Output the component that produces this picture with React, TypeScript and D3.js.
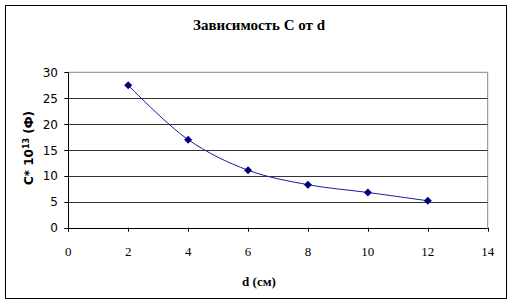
import React from "react";
import * as d3 from "d3";

const dValues = [2, 4, 6, 8, 10, 12];
const cValues = [27.5, 17.0, 11.1, 8.3, 6.8, 5.2];
const xTicks = [0, 2, 4, 6, 8, 10, 12, 14];
const yTicks = [0, 5, 10, 15, 20, 25, 30];
const title = "Зависимость С от d";
const xTitle = "d (см)";

export default function App() {
  const W = 513, H = 306;
  const x = d3.scaleLinear().domain([0, 14]).range([68.3, 487.7]);
  const y = d3.scaleLinear().domain([0, 30]).range([227.7, 72.3]);
  const pts: [number, number][] = dValues.map((d, i) => [x(d), y(cValues[i])]);
  const line = d3.line().curve(d3.curveCatmullRom.alpha(0.5))(pts) || "";
  const serif = { fontFamily: "'Liberation Serif', 'DejaVu Serif', serif" };
  const sans = { fontFamily: "'DejaVu Sans', Verdana, sans-serif" };
  return (
    <svg width={W} height={H} style={{ position: "absolute", left: 0, top: 0 }}>
      <rect x={0} y={0} width={W} height={H} fill="#fff" />
      <rect x={5.5} y={5.5} width={501} height={293} fill="#fff" stroke="#000" strokeWidth={1} />
      <text x={259} y={30} textAnchor="middle" style={serif} fontWeight="bold" fontSize={15}>{title}</text>
      <line x1={x(0)} x2={x(14)} y1={y(30)} y2={y(30)} stroke="#888" />
      <line x1={x(14)} x2={x(14)} y1={y(30)} y2={y(0)} stroke="#888" />
      {yTicks.filter(t => t > 0 && t < 30).map(t => (
        <line key={t} x1={x(0)} x2={x(14)} y1={Math.round(y(t)) + 0.5} y2={Math.round(y(t)) + 0.5} stroke="#333" />
      ))}
      <line x1={Math.round(x(0)) + 0.5} x2={Math.round(x(0)) + 0.5} y1={y(30)} y2={y(0) + 4} stroke="#000" />
      <line x1={x(0) - 4} x2={x(14)} y1={Math.round(y(0)) + 0.5} y2={Math.round(y(0)) + 0.5} stroke="#000" />
      {yTicks.map(t => (
        <g key={t}>
          <line x1={x(0) - 4} x2={x(0)} y1={Math.round(y(t)) + 0.5} y2={Math.round(y(t)) + 0.5} stroke="#000" />
          <text x={58} y={y(t) + 4.5} textAnchor="end" style={sans} fontSize={12}>{t}</text>
        </g>
      ))}
      {xTicks.map(t => (
        <g key={t}>
          <line x1={Math.round(x(t)) + 0.5} x2={Math.round(x(t)) + 0.5} y1={y(0)} y2={y(0) + 4} stroke="#000" />
          <text x={x(t)} y={256} textAnchor="middle" style={serif} fontSize={13}>{t}</text>
        </g>
      ))}
      <text x={259} y={286} textAnchor="middle" style={serif} fontWeight="bold" fontSize={13}>{xTitle}</text>
      <text transform={`translate(33,148) rotate(-90)`} textAnchor="middle" style={sans} fontWeight="bold" fontSize={12}>
        C* 10<tspan dy={-4} fontSize={8}>13</tspan><tspan dy={4}> (Ф)</tspan>
      </text>
      <path d={line} fill="none" stroke="#1a1a99" strokeWidth={1} />
      {pts.map((p, i) => (
        <path key={i} d={`M${p[0]},${p[1] - 4}L${p[0] + 4},${p[1]}L${p[0]},${p[1] + 4}L${p[0] - 4},${p[1]}Z`} fill="#000080" />
      ))}
    </svg>
  );
}
